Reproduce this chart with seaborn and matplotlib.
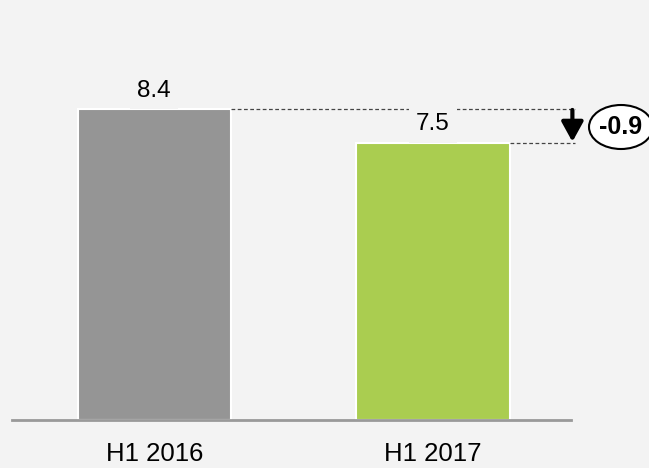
import matplotlib
matplotlib.use("Agg")
import matplotlib.pyplot as plt
from matplotlib.patches import Ellipse
import seaborn as sns
import pandas as pd

periods = ["H1 2016", "H1 2017"]
values = [8.4, 7.5]
bar_colors = ["#959595", "#aacd50"]
delta_label = "-0.9"

bg = "#f3f3f3"
sns.set_theme(style="white")
plt.rcParams["font.family"] = ["Liberation Sans", "DejaVu Sans"]

df = pd.DataFrame({"period": periods, "value": values})

fig = plt.figure(figsize=(6.49, 4.68), dpi=100, facecolor=bg)
ax = fig.add_axes([12 / 649, 48 / 468, (571 - 12) / 649, 420 / 468])
ax.set_facecolor(bg)

sns.barplot(data=df, x="period", y="value", hue="period", palette=bar_colors,
            saturation=1, width=0.55, edgecolor="white", linewidth=1.5,
            legend=False, ax=ax)

ax.set_xlim(-0.51, 1.495)
ax.set_ylim(0, 420 / 37.0)
for s in ["top", "right", "left"]:
    ax.spines[s].set_visible(False)
ax.spines["bottom"].set_color("#999999")
ax.spines["bottom"].set_linewidth(2)
ax.set_yticks([])
ax.set_xlabel("")
ax.set_ylabel("")
ax.tick_params(axis="x", length=0, labelsize=18.5, pad=16, colors="black")

# dashed reference lines
x_end = 1.51
hw = 0.55 / 2
for i, v in enumerate(values):
    ax.plot([i + hw, x_end], [v, v], ls=(0, (3, 2)), color="#444444", lw=0.9,
            clip_on=False, zorder=1)

# value labels
for i, v in enumerate(values):
    ax.annotate(f"{v}", xy=(i, v), xytext=(0, 13), textcoords="offset points",
                ha="center", va="center", fontsize=17.5, color="black", zorder=3,
                bbox=dict(boxstyle="square,pad=0.3", fc=bg, ec="none"))

# arrow showing the change
ax.annotate("", xy=(1.5, values[1] + 0.02), xytext=(1.5, values[0] - 0.02),
            arrowprops=dict(arrowstyle="-|>,head_width=0.55,head_length=1.0",
                            color="black", lw=3, shrinkA=0, shrinkB=0),
            annotation_clip=False)

# ellipse label
fig.patches.append(Ellipse((621 / 649, 1 - 127 / 468), 64 / 649, 44 / 468,
                           transform=fig.transFigure, fc="white", ec="black",
                           lw=1.5, figure=fig))
fig.text(621 / 649, 1 - 127 / 468, delta_label, ha="center", va="center",
         fontsize=18, fontweight="bold", color="black")

fig.savefig("out.png", dpi=100, facecolor=bg)
